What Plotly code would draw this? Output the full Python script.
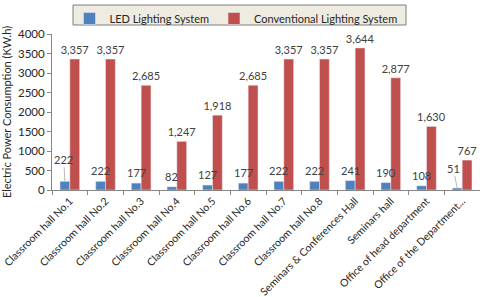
import plotly.graph_objects as go

categories = ["Classroom hall No.1", "Classroom hall No.2", "Classroom hall No.3",
              "Classroom hall No.4", "Classroom hall No.5", "Classroom hall No.6",
              "Classroom hall No.7", "Classroom hall No.8", "Seminars & Conferences Hall",
              "Seminars hall", "Office of head department", "Office of the Department..."]
led = [222, 222, 177, 82, 127, 177, 222, 222, 241, 190, 108, 51]
conventional = [3357, 3357, 2685, 1247, 1918, 2685, 3357, 3357, 3644, 2877, 1630, 767]
y_ticks = [0, 500, 1000, 1500, 2000, 2500, 3000, 3500, 4000]

FONT = "Lato"
TXT = "#404040"
leader_idx = {0: (-1, -22), 11: (-4, -20)}

fig = go.Figure()
fig.add_trace(go.Bar(x=categories, y=led, name="LED Lighting System",
                     marker_color="#4F81BD"))
fig.add_trace(go.Bar(x=categories, y=conventional, name="Conventional Lighting System",
                     marker_color="#C0504D", texttemplate="%{y:,}", textposition="outside",
                     constraintext="none",
                     textfont=dict(family=FONT, size=11, color=TXT), cliponaxis=False))

for i, v in enumerate(led):
    if i in leader_idx:
        ax, ay = leader_idx[i]
        fig.add_annotation(x=categories[i], y=v, xshift=-5, text=f"{v:,}",
                           showarrow=True, arrowhead=0, arrowwidth=0.8,
                           arrowcolor="#A6A6A6", ax=ax, ay=ay, standoff=0,
                           font=dict(family=FONT, size=11, color=TXT))
    else:
        fig.add_annotation(x=categories[i], y=v, xshift=-5, yshift=2, text=f"{v:,}",
                           showarrow=False, yanchor="bottom",
                           font=dict(family=FONT, size=11, color=TXT))

# legend box
fig.add_shape(type="rect", xref="paper", yref="paper",
              x0=(73 - 52) / 428, x1=(406 - 52) / 428,
              y0=1 + (34 - 25) / 156, y1=1 + (34 - 5) / 156,
              fillcolor="#EEECE1", line=dict(color="#7F7F7F", width=1), layer="below")

fig.update_layout(
    width=480, height=297,
    margin=dict(l=52, r=0, t=34, b=107, autoexpand=False),
    paper_bgcolor="white", plot_bgcolor="white",
    barmode="group", bargap=0.45, bargroupgap=0,
    font=dict(family=FONT, size=11, color=TXT),
    showlegend=True,
    legend=dict(orientation="h", x=(236 - 52) / 428, xanchor="center", yref="container",
                y=1 - 4 / 297, yanchor="top", bgcolor="rgba(0,0,0,0)",
                font=dict(family=FONT, size=11, color="#262626"),
                itemwidth=30),
    xaxis=dict(showline=True, linecolor="#868686", linewidth=1, ticks="outside",
               tickson="boundaries", ticklen=4, tickcolor="#868686",
               tickangle=-45, tickfont=dict(family=FONT, size=10.5, color="#262626"),
               showgrid=False, automargin=False),
    yaxis=dict(range=[0, 4000], tickvals=y_ticks, showline=True, linecolor="#868686",
               linewidth=1, ticks="outside", ticklen=4, tickcolor="#868686",
               showgrid=False, zeroline=False, automargin=False,
               tickfont=dict(family=FONT, size=11.5, color="#262626"),
               title=dict(text="Electric Power Consumption (KW.h)", standoff=4,
                          font=dict(family=FONT, size=11, color="#262626"))),
)

fig.write_html("out.html", config={"displayModeBar": False},
               post_script="document.body.style.margin='0';document.body.style.padding='0';")
